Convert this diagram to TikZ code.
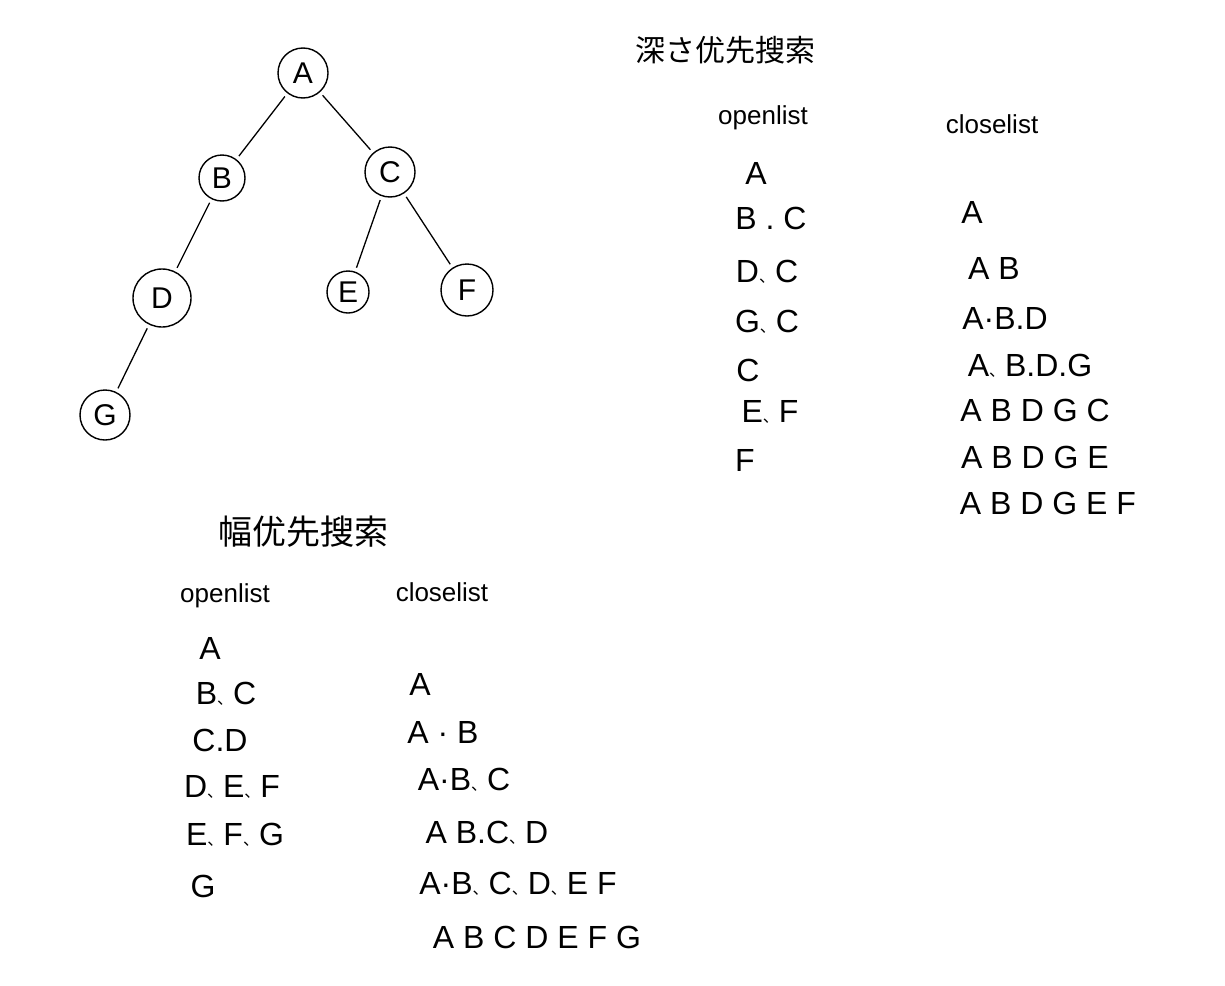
\documentclass[tikz,border=0pt]{standalone}
\usepackage{fontspec}
\setmainfont{Liberation Sans}
\newfontfamily\cjk{Noto Sans CJK JP}
\newcommand{\dn}{{\cjk\fontsize{16}{16}\selectfont 、}}
\begin{document}
\begin{tikzpicture}[x=1pt,y=-1pt,
  tn/.style={draw, circle, line width=1.4pt, inner sep=0pt, font=\fontsize{30}{36}\selectfont},
  edge/.style={line width=1.3pt, shorten >=4pt, shorten <=4pt},
  head/.style={font=\fontsize{26}{30}\selectfont},
  item/.style={font=\fontsize{32}{38}\selectfont},
  ttl/.style={font=\cjk\fontsize{34}{40}\selectfont}]
\useasboundingbox[fill=white] (0,0) rectangle (1225,985);
% tree
\node[tn, minimum size=50pt] (A) at (303,73) {A};
\node[tn, minimum size=46pt] (B) at (222,178) {B};
\node[tn, minimum size=50pt] (C) at (390,172) {C};
\node[tn, minimum size=58pt] (D) at (162,298) {D};
\node[tn, minimum size=42pt] (E) at (348,292) {E};
\node[tn, minimum size=52pt] (F) at (467,290) {F};
\node[tn, minimum size=50pt] (G) at (105,415) {G};
\draw[edge] (A) -- (B);
\draw[edge] (A) -- (C);
\draw[edge] (B) -- (D);
\draw[edge] (C) -- (E);
\draw[edge] (C) -- (F);
\draw[edge] (D) -- (G);
% DFS
\node[ttl, font=\cjk\fontsize{30}{36}\selectfont] (t1) at (725,50) {深さ优先搜索};
\node[head] (h1o) at (763,118) {openlist};
\node[head] (h1c) at (992,124) {closelist};
\node[item] (do1) at (756,173) {A};
\node[item] (do2) at (771,218) {B . C};
\node[item] (do3) at (767,272) {D\dn C};
\node[item] (do4) at (767,322) {G\dn C};
\node[item] (do5) at (748,370) {C};
\node[item] (do6) at (770,412) {E\dn F};
\node[item] (do7) at (745,460) {F};
\node[item] (dc1) at (972,212) {A};
\node[item] (dc2) at (994,268) {A B};
\node[item] (dc3) at (1005,318) {A·B.D};
\node[item] (dc4) at (1030,366) {A\dn B.D.G};
\node[item] (dc5) at (1035,410) {A B D G C};
\node[item] (dc6) at (1035,457) {A B D G E};
\node[item] (dc7) at (1048,503) {A B D G E F};
% BFS
\node[ttl] (t2) at (303,532) {幅优先搜索};
\node[head] (h2o) at (225,596) {openlist};
\node[head] (h2c) at (442,592) {closelist};
\node[item] (bo1) at (210,648) {A};
\node[item] (bo2) at (226,694) {B\dn C};
\node[item] (bo3) at (220,740) {C.D};
\node[item] (bo4) at (232,787) {D\dn E\dn F};
\node[item] (bo5) at (235,835) {E\dn F\dn G};
\node[item] (bo6) at (203,886) {G};
\node[item] (bc1) at (420,684) {A};
\node[item] (bc2) at (443,732) {A · B};
\node[item] (bc3) at (464,780) {A·B\dn C};
\node[item] (bc4) at (487,833) {A B.C\dn D};
\node[item] (bc5) at (518,884) {A·B\dn C\dn D\dn E F};
\node[item] (bc6) at (537,937) {A B C D E F G};
\end{tikzpicture}
\end{document}
